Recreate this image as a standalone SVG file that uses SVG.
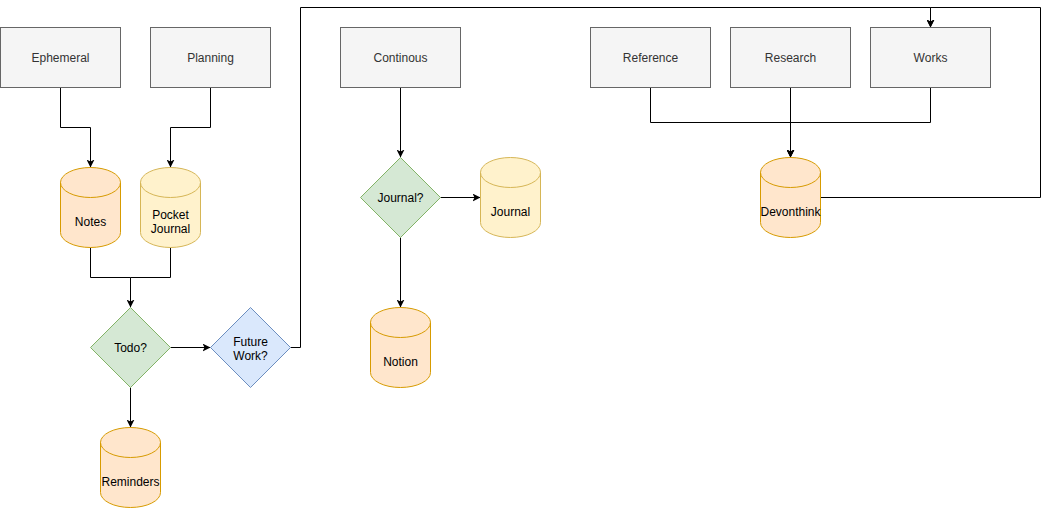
<svg xmlns="http://www.w3.org/2000/svg" width="1049" height="508" viewBox="0 0 1049 508">
<style>
.box{fill:#f5f5f5;stroke:#666666;stroke-width:1}
.cylO{fill:#ffe6cc;stroke:#d79b00;stroke-width:1}
.cylY{fill:#fff2cc;stroke:#d6b656;stroke-width:1}
.cylO.rim,.cylY.rim{fill:none}
.dG{fill:#d5e8d4;stroke:#82b366;stroke-width:1}
.dB{fill:#dae8fc;stroke:#6c8ebf;stroke-width:1}
.edge{fill:none;stroke:#000000;stroke-width:1;marker-end:url(#arr)}
.line{fill:none;stroke:#000000;stroke-width:1}
text{font-family:"Liberation Sans",Arial,Helvetica,sans-serif;font-size:12px;text-anchor:middle}
.gt{fill:#333333}
.bt{fill:#000000}
</style>
<defs>
<marker id="arr" viewBox="0 0 8 8" refX="8" refY="4" markerWidth="8" markerHeight="8" orient="auto" markerUnits="userSpaceOnUse">
<path d="M0,0 L8,4 L0,8 L2,4 Z" fill="#000000"/>
</marker>
</defs>
<rect width="1049" height="508" fill="#ffffff"/>
<g transform="translate(0.5,0.5)">
<g id="connectors">
<path class="edge" d="M60,87 V127 H90 V167"/>
<path class="edge" d="M210,87 V127 H170 V167"/>
<path class="edge" d="M90,247 V277 H130 V307"/>
<path class="line" d="M170,247 V277 H130"/>
<path class="edge" d="M170,347 H210"/>
<path class="edge" d="M130,387 V427"/>
<path class="edge" d="M290,347 H300 V7 H930 V27"/>
<path class="edge" d="M400,87 V157"/>
<path class="edge" d="M440,197 H480"/>
<path class="edge" d="M400,237 V307"/>
<path class="edge" d="M650,87 V122 H790 V157"/>
<path class="edge" d="M790,87 V157"/>
<path class="edge" d="M930,87 V122 H790 V157"/>
<path class="edge" d="M820,197 H1040 V7 H930 V27"/>
</g>
<g id="ephemeral"><rect class="box" x="0" y="27" width="120" height="60"/><text class="gt" x="60" y="61">Ephemeral</text></g>
<g id="planning"><rect class="box" x="150" y="27" width="120" height="60"/><text class="gt" x="210" y="61">Planning</text></g>
<g id="continous"><rect class="box" x="340" y="27" width="120" height="60"/><text class="gt" x="400" y="61">Continous</text></g>
<g id="reference"><rect class="box" x="590" y="27" width="120" height="60"/><text class="gt" x="650" y="61">Reference</text></g>
<g id="research"><rect class="box" x="730" y="27" width="120" height="60"/><text class="gt" x="790" y="61">Research</text></g>
<g id="works"><rect class="box" x="870" y="27" width="120" height="60"/><text class="gt" x="930" y="61">Works</text></g>
<g id="notes"><path class="cylO" d="M60,182 a30,15 0 0 1 60,0 v50 a30,15 0 0 1 -60,0 Z"/><path class="cylO rim" d="M60,182 a30,15 0 0 0 60,0"/><text class="bt" x="90" y="225">Notes</text></g>
<g id="pocket-journal"><path class="cylY" d="M140,182 a30,15 0 0 1 60,0 v50 a30,15 0 0 1 -60,0 Z"/><path class="cylY rim" d="M140,182 a30,15 0 0 0 60,0"/><text class="bt" x="170" y="218">Pocket</text><text class="bt" x="170" y="232">Journal</text></g>
<g id="todo"><path class="dG" d="M130,307 L170,347 L130,387 L90,347 Z"/><text class="bt" x="130" y="351">Todo?</text></g>
<g id="future-work"><path class="dB" d="M250,307 L290,347 L250,387 L210,347 Z"/><text class="bt" x="250" y="345">Future</text><text class="bt" x="250" y="359">Work?</text></g>
<g id="reminders"><path class="cylO" d="M100,442 a30,15 0 0 1 60,0 v50 a30,15 0 0 1 -60,0 Z"/><path class="cylO rim" d="M100,442 a30,15 0 0 0 60,0"/><text class="bt" x="130" y="485">Reminders</text></g>
<g id="journal-q"><path class="dG" d="M400,157 L440,197 L400,237 L360,197 Z"/><text class="bt" x="400" y="201">Journal?</text></g>
<g id="journal"><path class="cylY" d="M480,172 a30,15 0 0 1 60,0 v50 a30,15 0 0 1 -60,0 Z"/><path class="cylY rim" d="M480,172 a30,15 0 0 0 60,0"/><text class="bt" x="510" y="215">Journal</text></g>
<g id="notion"><path class="cylO" d="M370,322 a30,15 0 0 1 60,0 v50 a30,15 0 0 1 -60,0 Z"/><path class="cylO rim" d="M370,322 a30,15 0 0 0 60,0"/><text class="bt" x="400" y="365">Notion</text></g>
<g id="devonthink"><path class="cylO" d="M760,172 a30,15 0 0 1 60,0 v50 a30,15 0 0 1 -60,0 Z"/><path class="cylO rim" d="M760,172 a30,15 0 0 0 60,0"/><text class="bt" x="790" y="215">Devonthink</text></g>
</g>
</svg>
